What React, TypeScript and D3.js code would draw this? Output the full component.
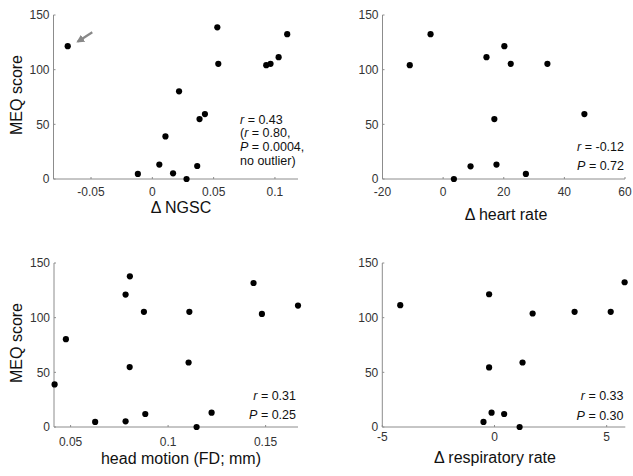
import React from "react";
import * as d3 from "d3";

// ---- data ----
const meqTicks = [0, 50, 100, 150];

const ngscX = [-0.069, 0.053, 0.0538, 0.11, 0.0929, 0.0964, 0.103, 0.0218, 0.0429, 0.0385, 0.0107, 0.0057, -0.0118, 0.0169, 0.0279, 0.0366];
const ngscY = [121.5, 138.7, 105.3, 132.5, 104.1, 105.3, 111.4, 80.2, 59.4, 54.8, 38.9, 13.2, 4.6, 5.2, 0, 11.9];
const ngscTicks = [-0.05, 0, 0.05, 0.1];

const heartX = [-11, -4.15, 14.3, 20.2, 22.3, 34.4, 16.9, 46.6, 9.05, 17.6, 27.3, 3.55];
const heartY = [104.1, 132.5, 111.4, 121.5, 105.3, 105.3, 54.8, 59.4, 11.6, 13.2, 4.6, 0];
const heartTicks = [-20, 0, 20, 40, 60];

const motionX = [0.0418, 0.0476, 0.0626, 0.0782, 0.0782, 0.0804, 0.0876, 0.0803, 0.0883, 0.1109, 0.1105, 0.1146, 0.1223, 0.1438, 0.1481, 0.1666];
const motionY = [38.9, 80.3, 4.6, 5.2, 121.1, 137.8, 105.3, 54.8, 11.9, 105.3, 59.0, 0, 13.1, 131.7, 103.4, 111.1];
const motionTicks = [0.05, 0.1, 0.15];

const respX = [-4.2, -0.24, 1.7, 3.57, 5.18, 5.8, -0.24, 1.25, -0.49, -0.13, 0.43, 1.12];
const respY = [111.4, 121.4, 103.8, 105.3, 105.3, 132.4, 54.5, 59.0, 4.6, 13.1, 11.9, 0];
const respTicks = [-5, 0, 5];

const FONT = "'Liberation Sans', Arial, Helvetica, sans-serif";
const AXIS = "#8c8c8c";
const TICKC = "#333";

// each line: list of [text, italic?] segments
type Seg = [string, boolean];

interface PanelProps {
  xs: number[];
  ys: number[];
  xDomain: [number, number];
  xTicks: number[];
  xr: [number, number];
  yr: [number, number];
  xLabel: string;
  yLabel?: boolean;
  tickBase: number;
  labelBase: number;
  labelX?: number;
  ann: { lines: Seg[][]; x: number; y0: number; dy: number; anchor: "start" | "end" };
}

function Panel(p: PanelProps) {
  const x = d3.scaleLinear().domain(p.xDomain).range(p.xr);
  const y = d3.scaleLinear().domain([0, 150]).range([p.yr[1], p.yr[0]]);
  const [x0, x1] = p.xr;
  const [yt, yb] = p.yr;
  return (
    <g>
      <line x1={x0} x2={x0} y1={yt} y2={yb} stroke={AXIS} strokeWidth={1} />
      <line x1={x0} x2={x1} y1={yb} y2={yb} stroke={AXIS} strokeWidth={1} />
      {meqTicks.map((t) => (
        <g key={"y" + t}>
          <line x1={x0} x2={x0 + 2} y1={y(t)} y2={y(t)} stroke={AXIS} />
          <text x={x0 - 4} y={y(t)} dy="0.35em" textAnchor="end" fontSize={12} fill={TICKC} fontFamily={FONT}>
            {t}
          </text>
        </g>
      ))}
      {p.xTicks.map((t) => (
        <g key={"x" + t}>
          <line x1={x(t)} x2={x(t)} y1={yb} y2={yb - 2} stroke={AXIS} />
          <text x={x(t)} y={p.tickBase} textAnchor="middle" fontSize={12} fill={TICKC} fontFamily={FONT}>
            {String(t)}
          </text>
        </g>
      ))}
      {p.xs.map((v, i) => (
        <circle key={i} cx={x(v)} cy={y(p.ys[i])} r={3.1} fill="#000" />
      ))}
      <text x={p.labelX ?? (x0 + x1) / 2} y={p.labelBase} textAnchor="middle" fontSize={16} fill="#111" fontFamily={FONT}>
        {p.xLabel}
      </text>
      {p.yLabel && (
        <text
          transform={`translate(${x0 - 32},${(yt + yb) / 2 - 2}) rotate(-90)`}
          textAnchor="middle"
          fontSize={16}
          fill="#111"
          fontFamily={FONT}
        >
          MEQ score
        </text>
      )}
      {p.ann.lines.map((segs, i) => (
        <text
          key={i}
          x={p.ann.x}
          y={p.ann.y0 + i * p.ann.dy}
          textAnchor={p.ann.anchor}
          fontSize={12.5}
          fill="#111"
          fontFamily={FONT}
        >
          {segs.map(([s, it], j) => (
            <tspan key={j} fontStyle={it ? "italic" : "normal"}>
              {s}
            </tspan>
          ))}
        </text>
      ))}
    </g>
  );
}

export default function App() {
  return (
    <svg
      width={633}
      height={476}
      style={{ position: "absolute", left: 0, top: 0, background: "#fff" }}
    >
      <defs>
        <marker id="ah" markerWidth="8" markerHeight="8" refX="6" refY="4" orient="auto" markerUnits="userSpaceOnUse">
          <path d="M0,0 L8,4 L0,8 z" fill="#888" />
        </marker>
      </defs>
      <Panel
        xs={ngscX}
        ys={ngscY}
        xDomain={[-0.0806, 0.1188]}
        xTicks={ngscTicks}
        xr={[53.5, 298]}
        yr={[15, 179]}
        xLabel="Δ NGSC"
        labelX={181}
        yLabel
        tickBase={196}
        labelBase={213}
        ann={{
          lines: [
            [["r", true], [" = 0.43", false]],
            [["(", false], ["r", true], [" = 0.80,", false]],
            [["P", true], [" = 0.0004,", false]],
            [["no outlier)", false]],
          ],
          x: 240,
          y0: 123.5,
          dy: 13.8,
          anchor: "start",
        }}
      />
      <Panel
        xs={heartX}
        ys={heartY}
        xDomain={[-20, 60]}
        xTicks={heartTicks}
        xr={[382.5, 625]}
        yr={[15, 179]}
        xLabel="Δ heart rate"
        labelX={506}
        tickBase={196}
        labelBase={220}
        ann={{
          lines: [
            [["r", true], [" = -0.12", false]],
            [["P", true], [" = 0.72", false]],
          ],
          x: 624,
          y0: 151,
          dy: 19,
          anchor: "end",
        }}
      />
      <Panel
        xs={motionX}
        ys={motionY}
        xDomain={[0.0415, 0.1666]}
        xTicks={motionTicks}
        xr={[54, 298]}
        yr={[263, 427]}
        xLabel="head motion (FD; mm)"
        labelX={181}
        yLabel
        tickBase={446}
        labelBase={464}
        ann={{
          lines: [
            [["r", true], [" = 0.31", false]],
            [["P", true], [" = 0.25", false]],
          ],
          x: 296,
          y0: 399.5,
          dy: 19.5,
          anchor: "end",
        }}
      />
      <Panel
        xs={respX}
        ys={respY}
        xDomain={[-5, 5.83]}
        xTicks={respTicks}
        xr={[382.3, 625.3]}
        yr={[263, 427]}
        xLabel="Δ respiratory rate"
        labelX={495}
        tickBase={441}
        labelBase={463}
        ann={{
          lines: [
            [["r", true], [" = 0.33", false]],
            [["P", true], [" = 0.30", false]],
          ],
          x: 623.5,
          y0: 400,
          dy: 19.5,
          anchor: "end",
        }}
      />
      <line x1={92.3} y1={32.3} x2={78} y2={41.5} stroke="#888" strokeWidth={2.2} markerEnd="url(#ah)" />
    </svg>
  );
}
